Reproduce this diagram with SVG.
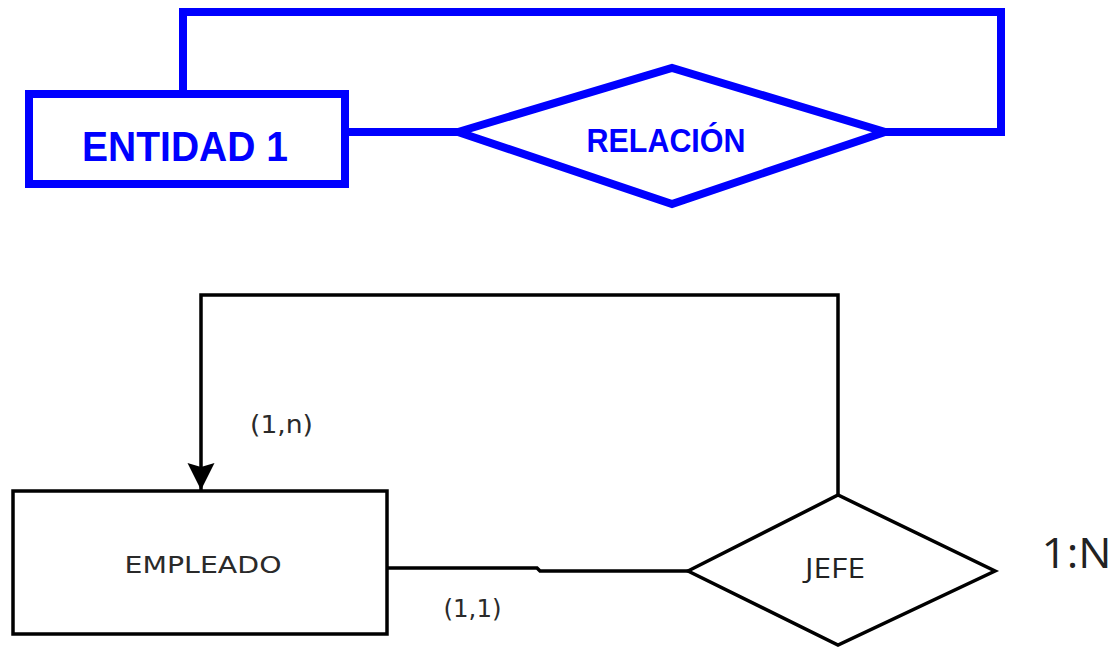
<svg xmlns="http://www.w3.org/2000/svg" width="1114" height="647" viewBox="0 0 1114 647">
  <style>
    .blue { fill: none; stroke: #0000ff; stroke-width: 8; stroke-linejoin: miter; }
    .blueShape { fill: #ffffff; stroke: #0000ff; stroke-width: 8; }
    .blueText { fill: #0000ff; font-family: "Liberation Sans", Arial, sans-serif; font-weight: bold; text-anchor: middle; }
    .black { fill: none; stroke: #000000; stroke-width: 3.5; }
    .blackShape { fill: #ffffff; stroke: #000000; stroke-width: 3.5; }
    .grayText { fill: #2a2a2a; font-family: "DejaVu Sans", Verdana, sans-serif; text-anchor: middle; }
    .uiText { fill: #222222; font-family: "Open Sans", "Noto Sans", sans-serif; text-anchor: middle; }
  </style>
  <defs>
    <marker id="arrowDown" viewBox="0 0 10 10" refX="10" refY="5" markerWidth="27" markerHeight="28" markerUnits="userSpaceOnUse" orient="auto">
      <path d="M0,0 L10,5 L0,10 L1.5,5 Z" fill="#000000"/>
    </marker>
  </defs>
  <rect width="1114" height="647" fill="#ffffff"/>

  <!-- Generic recursive relationship (blue) -->
  <g id="connectors-top">
    <polyline class="blue" points="183,92 183,12 1001,12 1001,132 885,132"/>
    <line class="blue" x1="347" y1="132" x2="458" y2="132"/>
  </g>
  <g id="entidad1">
    <rect class="blueShape" x="29" y="94" width="316" height="90"/>
    <text class="blueText" x="185" y="161" font-size="42" textLength="206" lengthAdjust="spacingAndGlyphs">ENTIDAD 1</text>
  </g>
  <g id="relacion">
    <polygon class="blueShape" points="458,132 672,68 885,132 672,204"/>
    <text class="blueText" x="666" y="152" font-size="32.5" textLength="159" lengthAdjust="spacingAndGlyphs">RELACIÓN</text>
  </g>

  <!-- Example: EMPLEADO / JEFE -->
  <g id="connectors-bottom">
    <polyline class="black" points="838,495 838,295 201,295 201,490" marker-end="url(#arrowDown)"/>
    <polyline class="black" points="387,568 537,568 540,571 688,571"/>
  </g>
  <g id="empleado">
    <rect class="blackShape" x="13" y="491" width="374" height="143"/>
    <text class="grayText" x="203" y="573" font-size="23" textLength="157" lengthAdjust="spacingAndGlyphs">EMPLEADO</text>
  </g>
  <g id="jefe">
    <polygon class="blackShape" points="688,571 838,495 995,571 838,645"/>
    <text class="uiText" x="835" y="578" font-size="28" textLength="60" lengthAdjust="spacingAndGlyphs">JEFE</text>
  </g>
  <g id="labels">
    <text class="grayText" x="281.5" y="433" font-size="25" textLength="63" lengthAdjust="spacingAndGlyphs">(1,n)</text>
    <text class="grayText" x="472.5" y="617" font-size="25" textLength="58" lengthAdjust="spacingAndGlyphs">(1,1)</text>
    <text class="uiText" x="1076.5" y="568" font-size="42" textLength="70" lengthAdjust="spacingAndGlyphs">1:N</text>
  </g>
</svg>
